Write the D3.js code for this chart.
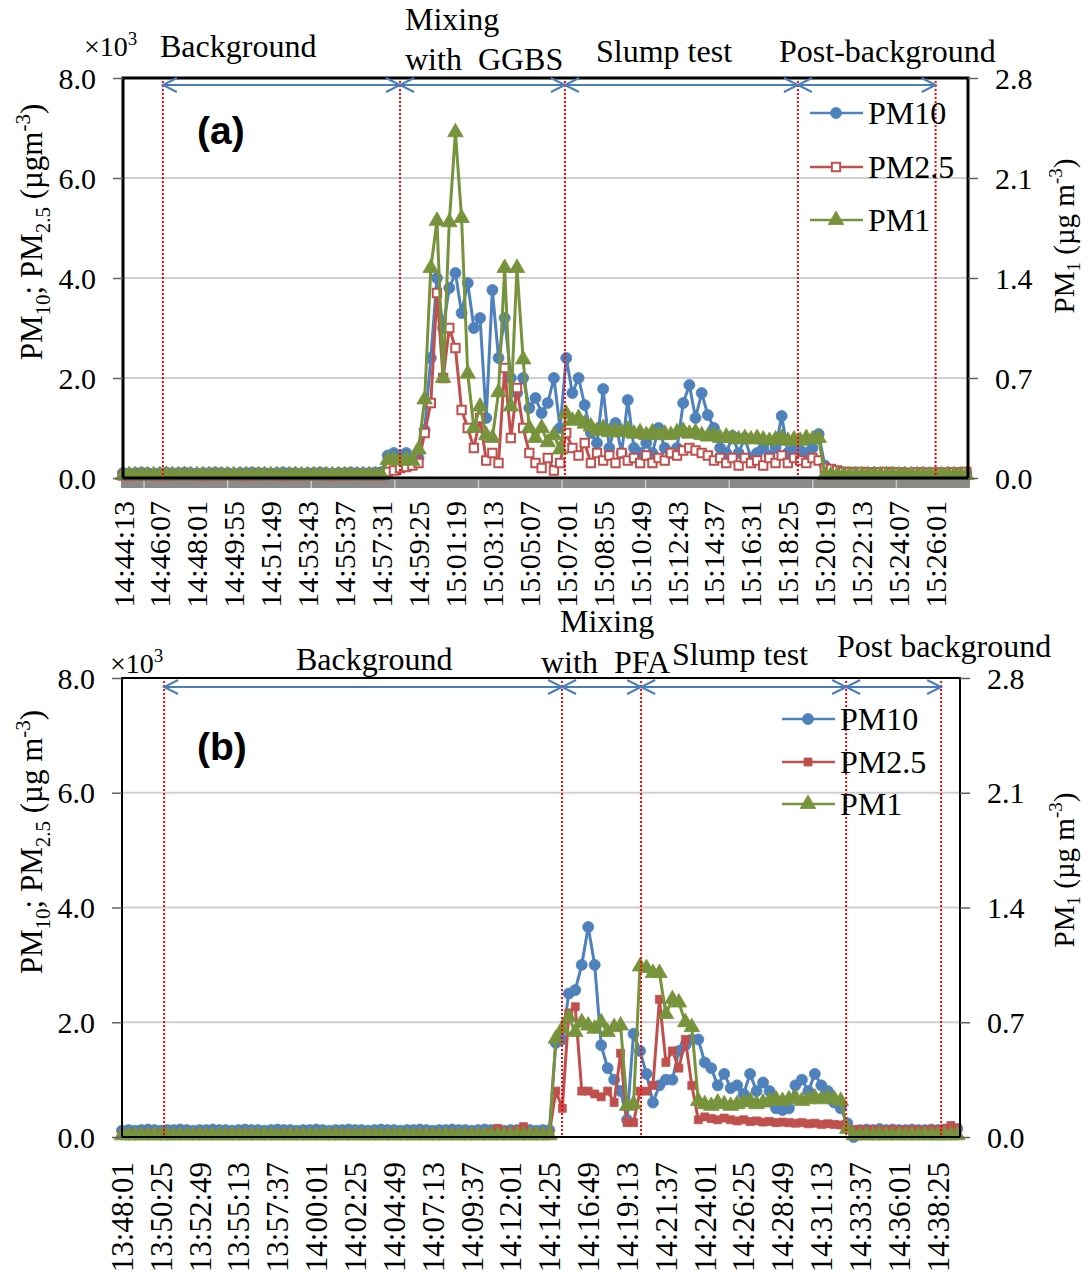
<!DOCTYPE html>
<html>
<head>
<meta charset="utf-8">
<script src="https://cdn.jsdelivr.net/npm/d3@7"></script>
<style>
    body { margin: 0; background: #fff; }
    svg { display: block; }
    text { font-family: "Liberation Serif", "Times New Roman", serif; fill: #000; }
</style>
</head>
<body>
<svg id="chart" width="1090" height="1278"></svg>
<script>
// ---------- panel (a): GGBS, one sample every 19 s from 14:44:13 ----------
const topLabels = ["14:44:13", "14:46:07", "14:48:01", "14:49:55", "14:51:49", "14:53:43", "14:55:37", "14:57:31",
    "14:59:25", "15:01:19", "15:03:13", "15:05:07", "15:07:01", "15:08:55", "15:10:49", "15:12:43", "15:14:37",
    "15:16:31", "15:18:25", "15:20:19", "15:22:13", "15:24:07", "15:26:01"];
const topMinorTicks = ["14:45:18", "14:49:36", "14:53:54", "14:58:12", "15:02:30", "15:06:48", "15:11:06", "15:15:24", "15:19:42", "15:24:00"];
const topPhaseTimes = ["14:46:16", "14:58:28", "15:06:57", "15:18:56", "15:26:01"];

// PM10 and PM2.5 in x10^3 ugm-3 (left axis)
const topPM10 = [
    0.10, 0.09, 0.10, 0.11, 0.10, 0.09, 0.10, 0.11, 0.10, 0.10,
    0.11, 0.10, 0.09, 0.10, 0.10, 0.11, 0.10, 0.10, 0.09, 0.10,
    0.10, 0.11, 0.10, 0.10, 0.09, 0.10, 0.11, 0.10, 0.10, 0.09,
    0.10, 0.10, 0.11, 0.10, 0.09, 0.10, 0.10, 0.11, 0.10, 0.10,
    0.10, 0.11,
    0.12, 0.45, 0.5, 0.45, 0.5, 0.3, 0.4, 0.96, 2.4, 4.0,
    3.0, 3.8, 4.1, 3.3, 3.9, 3.0, 3.2, 1.2, 3.76, 2.4,
    3.2, 2.0, 1.7, 2.0, 1.4, 1.6, 1.3, 1.5, 2.0, 1.0,
    2.4, 1.7, 2.0, 1.46, 0.9, 0.7, 1.78, 0.6, 1.1, 0.5,
    1.56, 0.6, 0.5, 0.7, 0.5, 1.0, 0.6, 0.5, 0.6, 1.5,
    1.86, 1.2, 1.7, 1.26, 1.0, 0.6, 0.5, 0.84, 0.5, 0.8,
    0.4, 0.5, 0.6, 0.45, 0.6, 1.24, 0.5, 0.6, 0.55, 0.5,
    0.6, 0.88,
    0.25, 0.14, 0.11, 0.10, 0.10, 0.11, 0.10, 0.10, 0.11, 0.10,
    0.10, 0.11, 0.10, 0.10, 0.09, 0.10, 0.11, 0.10, 0.10, 0.10,
    0.11, 0.10, 0.10, 0.09
];
const topPM25 = [
    0.05, 0.04, 0.05, 0.05, 0.06, 0.05, 0.04, 0.05, 0.05, 0.05,
    0.06, 0.05, 0.05, 0.04, 0.05, 0.05, 0.05, 0.06, 0.05, 0.05,
    0.04, 0.05, 0.05, 0.05, 0.06, 0.05, 0.04, 0.05, 0.05, 0.05,
    0.05, 0.06, 0.05, 0.05, 0.04, 0.05, 0.05, 0.05, 0.06, 0.05,
    0.05, 0.05,
    0.05, 0.12, 0.15, 0.2, 0.22, 0.25, 0.3, 0.9, 1.5, 3.7,
    2.0, 3.0, 2.6, 1.36, 1.0, 0.6, 1.2, 0.35, 0.5, 0.3,
    2.2, 0.8, 1.8, 1.0, 0.5, 0.3, 0.2, 0.4, 0.15, 0.3,
    0.9, 0.6, 0.45, 0.7, 0.3, 0.5, 0.35, 0.45, 0.3, 0.5,
    0.35, 0.4, 0.3, 0.45, 0.3, 0.4, 0.35, 0.5, 0.45, 0.55,
    0.6, 0.55, 0.5, 0.45, 0.35, 0.4, 0.3, 0.4, 0.25, 0.4,
    0.3, 0.35, 0.25, 0.4, 0.3, 0.45, 0.3, 0.4, 0.35, 0.3,
    0.4, 0.35,
    0.2, 0.18, 0.15, 0.12, 0.12, 0.11, 0.12, 0.11, 0.1, 0.11,
    0.12, 0.1, 0.11, 0.1, 0.1, 0.11, 0.1, 0.1, 0.11, 0.1,
    0.1, 0.11, 0.1, 0.12
];
// PM1 in x10^3 ug m-3 (right axis)
const topPM1 = [
    0.02, 0.02, 0.02, 0.02, 0.02, 0.02, 0.02, 0.02, 0.02, 0.02,
    0.02, 0.02, 0.02, 0.02, 0.02, 0.02, 0.02, 0.02, 0.02, 0.02,
    0.02, 0.02, 0.02, 0.02, 0.02, 0.02, 0.02, 0.02, 0.02, 0.02,
    0.02, 0.02, 0.02, 0.02, 0.02, 0.02, 0.02, 0.02, 0.02, 0.02,
    0.02, 0.02, 0.02,
    0.126, 0.13, 0.12, 0.13, 0.12, 0.2, 0.55, 1.47, 1.8, 0.7,
    1.79, 2.42, 1.82, 0.73, 0.35, 0.5, 0.3, 0.28, 0.6, 1.47,
    0.5, 1.47, 0.83, 0.35, 0.28, 0.35, 0.25, 0.3, 0.2,
    0.45, 0.4, 0.42, 0.38, 0.36, 0.33, 0.35, 0.32, 0.33, 0.32,
    0.34, 0.31, 0.32, 0.3, 0.32, 0.3, 0.31, 0.3, 0.32, 0.33,
    0.31, 0.32, 0.3, 0.29, 0.3, 0.28, 0.29, 0.28, 0.27, 0.28,
    0.27, 0.28, 0.27, 0.26, 0.27, 0.28, 0.26, 0.27, 0.26, 0.28,
    0.27, 0.28,
    0.02, 0.02, 0.02, 0.02, 0.02, 0.02, 0.02, 0.02, 0.02, 0.02,
    0.02, 0.02, 0.02, 0.02, 0.02, 0.02, 0.02, 0.02, 0.02, 0.02,
    0.02, 0.02, 0.02, 0.02
];

// ---------- panel (b): PFA, one sample every 24 s from 13:48:01 ----------
const bottomLabels = ["13:48:01", "13:50:25", "13:52:49", "13:55:13", "13:57:37", "14:00:01", "14:02:25", "14:04:49",
    "14:07:13", "14:09:37", "14:12:01", "14:14:25", "14:16:49", "14:19:13", "14:21:37", "14:24:01", "14:26:25",
    "14:28:49", "14:31:13", "14:33:37", "14:36:01", "14:38:25"];
const bottomPhaseTimes = ["13:50:37", "14:15:12", "14:20:05", "14:32:45", "14:38:37"];

const bottomPM10 = [
    0.11, 0.12, 0.11, 0.12, 0.13, 0.12, 0.11, 0.12, 0.12, 0.13,
    0.12, 0.11, 0.12, 0.12, 0.13, 0.12, 0.12, 0.11, 0.12, 0.13,
    0.12, 0.12, 0.11, 0.12, 0.13, 0.12, 0.12, 0.11, 0.12, 0.12,
    0.13, 0.12, 0.11, 0.12, 0.12, 0.13, 0.12, 0.12, 0.11, 0.12,
    0.13, 0.12, 0.12, 0.11, 0.12, 0.12, 0.13, 0.12, 0.11, 0.12,
    0.12, 0.13, 0.12, 0.12, 0.11, 0.12, 0.13, 0.12, 0.12, 0.11,
    0.12, 0.12, 0.13, 0.12, 0.11, 0.12, 0.12,
    1.64, 1.7, 2.5, 2.56, 3.0, 3.66, 3.0, 1.6, 1.2, 1.0,
    0.8, 0.3, 1.8, 1.5, 1.1, 0.6, 0.9, 1.0, 1.0, 1.5,
    1.6, 1.7, 1.7, 1.3, 1.2, 0.9, 1.1, 0.85, 0.9, 0.75,
    1.1, 0.8, 0.95, 0.8, 0.5, 0.47, 0.5, 0.9, 1.0, 0.8,
    1.1, 0.9, 0.8, 0.6, 0.5, 0.24, 0.0,
    0.12, 0.13, 0.12, 0.14, 0.12, 0.13, 0.12, 0.12, 0.13, 0.12,
    0.12, 0.13, 0.12, 0.13, 0.12, 0.14
];
const bottomPM25 = [
    0.05, 0.05, 0.04, 0.05, 0.05, 0.06, 0.05, 0.05, 0.04, 0.05,
    0.05, 0.05, 0.06, 0.05, 0.05, 0.04, 0.05, 0.05, 0.05, 0.06,
    0.05, 0.05, 0.04, 0.05, 0.05, 0.05, 0.06, 0.05, 0.05, 0.04,
    0.05, 0.05, 0.05, 0.06, 0.05, 0.05, 0.04, 0.05, 0.05, 0.05,
    0.06, 0.05, 0.05, 0.04, 0.05, 0.05, 0.05, 0.06, 0.05, 0.05,
    0.05, 0.06, 0.05, 0.05, 0.05, 0.06, 0.05, 0.08, 0.15, 0.1,
    0.06, 0.12, 0.18, 0.08, 0.06, 0.05, 0.06,
    0.8, 0.5, 2.16, 2.27, 0.8, 0.8, 0.75, 0.7, 0.8, 0.6,
    1.46, 0.25, 0.25, 0.8, 0.8, 0.9, 2.4, 1.3, 1.5, 1.2,
    1.7, 0.9, 0.3, 0.35, 0.32, 0.3, 0.33, 0.3, 0.28, 0.3,
    0.27, 0.28, 0.26, 0.27, 0.25, 0.26, 0.25, 0.24, 0.25, 0.23,
    0.24, 0.22, 0.23, 0.22, 0.21, 0.15, 0.13,
    0.13, 0.12, 0.13, 0.12, 0.12, 0.13, 0.12, 0.12, 0.13, 0.12,
    0.12, 0.13, 0.12, 0.14, 0.2, 0.15
];
const bottomPM1 = [
    0.01, 0.01, 0.01, 0.01, 0.01, 0.01, 0.01, 0.01, 0.01, 0.01,
    0.01, 0.01, 0.01, 0.01, 0.01, 0.01, 0.01, 0.01, 0.01, 0.01,
    0.01, 0.01, 0.01, 0.01, 0.01, 0.01, 0.01, 0.01, 0.01, 0.01,
    0.01, 0.01, 0.01, 0.01, 0.01, 0.01, 0.01, 0.01, 0.01, 0.01,
    0.01, 0.01, 0.01, 0.01, 0.01, 0.01, 0.01, 0.01, 0.01, 0.01,
    0.01, 0.01, 0.01, 0.01, 0.01, 0.01, 0.01, 0.01, 0.01, 0.01,
    0.01, 0.01, 0.01, 0.01, 0.01, 0.01, 0.01,
    0.6, 0.66, 0.73, 0.64, 0.7, 0.68, 0.66, 0.7, 0.64, 0.67,
    0.68, 0.19, 0.2, 1.04, 1.03, 1.0, 1.0, 0.75, 0.84, 0.82,
    0.7, 0.67, 0.22, 0.2, 0.19, 0.21, 0.2, 0.19, 0.2, 0.21,
    0.22, 0.2, 0.21, 0.22, 0.23, 0.22, 0.23, 0.24, 0.22, 0.23,
    0.24, 0.23, 0.24, 0.23, 0.22, 0.05, 0.01,
    0.01, 0.01, 0.01, 0.01, 0.01, 0.01, 0.01, 0.01, 0.01, 0.01,
    0.01, 0.01, 0.01, 0.01, 0.01, 0.01
];

const leftTicks = [0, 2, 4, 6, 8];
const rightTicks = [0, 0.7, 1.4, 2.1, 2.8];
const seriesNames = ["PM10", "PM2.5", "PM1"];
const colors = ["#4F81BD", "#C0504D", "#77933C"];

const svg = d3.select("#chart");
const toSec = s => { const [h, m, sec] = s.split(":").map(Number); return h * 3600 + m * 60 + sec; };

const marker = (sel, shape, color, openFill) => {
    const type = shape === "circle" ? d3.symbolCircle : shape === "square" ? d3.symbolSquare : d3.symbolTriangle;
    const size = shape === "circle" ? 95 : shape === "square" ? (openFill ? 70 : 64) : 105;
    sel.attr("d", d3.symbol().type(type).size(size)())
        .attr("fill", openFill ? "#fff" : color)
        .attr("stroke", color)
        .attr("stroke-width", openFill ? 2 : 0.8);
};

const drawPanel = (p) => {
    const g = svg.append("g");
    const t0 = toSec(p.start);
    const x = d3.scaleLinear().domain([0, p.span]).range([p.left, p.right]);
    const yL = d3.scaleLinear().domain([0, 8]).range([p.bottom, p.top]);
    const yR = d3.scaleLinear().domain([0, 2.8]).range([p.bottom, p.top]);
    const xt = s => x(toSec(s) - t0);

    // gridlines
    g.append("g").selectAll("line").data([2, 4, 6]).join("line")
        .attr("x1", p.left).attr("x2", p.right)
        .attr("y1", d => yL(d)).attr("y2", d => yL(d))
        .attr("stroke", "#d0d0d0").attr("stroke-width", 2);

    // grey category axis band (panel a only)
    if (p.band) {
        g.append("rect").attr("x", p.left - 2).attr("y", p.bottom + 2).attr("width", p.right - p.left + 4).attr("height", 8).attr("fill", "#8a8a8a");
        g.append("g").selectAll("line").data(p.minorTicks).join("line")
            .attr("x1", d => xt(d)).attr("x2", d => xt(d))
            .attr("y1", p.bottom + 2).attr("y2", p.bottom + 10)
            .attr("stroke", "#c8c8c8").attr("stroke-width", 1.5);
    }

    // series
    const series = [
        { vals: p.pm10, y: yL, shape: "circle" },
        { vals: p.pm25, y: yL, shape: "square", open: p.openSquares },
        { vals: p.pm1, y: yR, shape: "triangle" }
    ];
    series.forEach((s, k) => {
        const pts = s.vals.map((v, i) => [x(i * p.step), s.y(v)]);
        g.append("path")
            .attr("d", d3.line()(pts))
            .attr("fill", "none")
            .attr("stroke", colors[k])
            .attr("stroke-width", 3)
            .attr("stroke-linejoin", "round");
        g.append("g").selectAll("path").data(pts).join("path")
            .attr("transform", d => `translate(${d[0]},${d[1]})`)
            .call(marker, s.shape, colors[k], s.open);
    });

    // frame
    g.append("rect")
        .attr("x", p.left).attr("y", p.top)
        .attr("width", p.right - p.left).attr("height", p.bottom - p.top)
        .attr("fill", "none").attr("stroke", "#000").attr("stroke-width", p.frameWidth);

    // left axis
    const leftAxis = g.append("g").attr("transform", `translate(${p.left},0)`)
        .call(d3.axisLeft(yL).tickValues(leftTicks).tickFormat(d3.format(".1f")).tickSize(10).tickPadding(17));
    const rightAxis = g.append("g").attr("transform", `translate(${p.right},0)`)
        .call(d3.axisRight(yR).tickValues(rightTicks).tickFormat(d3.format(".1f")).tickSize(10).tickPadding(p.rightPad));
    [leftAxis, rightAxis].forEach(a => {
        a.attr("font-family", null).attr("font-size", null);
        a.select(".domain").remove();
        a.selectAll(".tick line").attr("stroke", "#606060").attr("stroke-width", 1.5);
        a.selectAll(".tick text").attr("font-size", 30).attr("dy", "0.34em");
    });

    // time labels
    g.append("g").selectAll("text").data(p.labels).join("text")
        .attr("transform", d => `translate(${xt(d)},${p.labelTop}) rotate(-90)`)
        .attr("text-anchor", "end")
        .attr("dy", "0.35em")
        .attr("font-size", p.labelSize)
        .text(d => d);

    // phase boundaries
    g.append("g").selectAll("line").data(p.phases).join("line")
        .attr("x1", d => xt(d)).attr("x2", d => xt(d))
        .attr("y1", p.top + 3).attr("y2", p.bottom - 2)
        .attr("stroke", "#ff0000").attr("stroke-width", 2).attr("stroke-dasharray", "2,2");

    // double arrows between boundaries
    const arrows = g.append("g").attr("stroke", "#4a7ebb").attr("stroke-width", 2).attr("fill", "none");
    d3.pairs(p.phases).forEach(([a, b]) => {
        const x1 = xt(a), x2 = xt(b), y = p.arrowY;
        arrows.append("line").attr("x1", x1).attr("x2", x2).attr("y1", y).attr("y2", y);
        arrows.append("path").attr("d", `M${x1 + 14},${y - 7}L${x1},${y}L${x1 + 14},${y + 7}`);
        arrows.append("path").attr("d", `M${x2 - 14},${y - 7}L${x2},${y}L${x2 - 14},${y + 7}`);
    });

    // phase names
    g.append("g").selectAll("text").data(p.notes).join("text")
        .attr("x", d => d.x).attr("y", d => d.y)
        .attr("font-size", 32)
        .style("white-space", "pre")
        .text(d => d.t);

    // x10^3
    const mult = g.append("text").attr("x", p.multX).attr("y", p.multY).attr("font-size", 28).text("×10");
    mult.append("tspan").attr("font-size", 19).attr("dy", -11).text("3");

    // panel tag
    g.append("text").attr("x", 197).attr("y", p.tagY)
        .style("font-family", "'Liberation Sans', Arial, sans-serif")
        .attr("font-weight", "bold").attr("font-size", 39).text(p.tag);

    // legend
    const leg = g.append("g").selectAll("g").data(seriesNames).join("g")
        .attr("transform", (d, i) => `translate(0,${p.legendY[i]})`);
    leg.append("line").attr("x1", p.legendX).attr("x2", p.legendX + 53)
        .attr("stroke", (d, i) => colors[i]).attr("stroke-width", 2.5);
    leg.append("path").attr("transform", `translate(${p.legendX + 26},0)`)
        .each(function(d, i) { d3.select(this).call(marker, series[i].shape, colors[i], series[i].open); });
    leg.append("text").attr("x", p.legendX + 58).attr("dy", "0.35em").attr("font-size", 32).text(d => d);

    // axis titles
    const lt = g.append("text").attr("transform", `translate(42,${p.leftTitleY}) rotate(-90)`)
        .attr("text-anchor", "middle").attr("font-size", 31);
    lt.append("tspan").text("PM");
    lt.append("tspan").attr("font-size", 21).attr("dy", 8).text("10");
    lt.append("tspan").attr("dy", -8).text("; PM");
    lt.append("tspan").attr("font-size", 21).attr("dy", 8).text("2.5");
    lt.append("tspan").attr("dy", -8).text(p.leftUnit);
    lt.append("tspan").attr("font-size", 21).attr("dy", -12).text("-3");
    lt.append("tspan").attr("dy", 12).text(")");

    const rt = g.append("text").attr("transform", `translate(1074,${p.rightTitleY}) rotate(-90)`)
        .attr("text-anchor", "middle").attr("font-size", 29);
    rt.append("tspan").text("PM");
    rt.append("tspan").attr("font-size", 19).attr("dy", 6).text("1");
    rt.append("tspan").attr("dy", -6).text(" (µg m");
    rt.append("tspan").attr("font-size", 19).attr("dy", -12).text("-3");
    rt.append("tspan").attr("dy", 12).text(")");
};

drawPanel({
    start: "14:44:13", step: 19, span: 2608,
    left: 123, right: 968, top: 78, bottom: 478,
    pm10: topPM10, pm25: topPM25, pm1: topPM1, openSquares: true,
    labels: topLabels, labelTop: 501, labelSize: 30,
    band: true, minorTicks: topMinorTicks, frameWidth: 3, rightPad: 17,
    phases: topPhaseTimes, arrowY: 85,
    notes: [
        { t: "Background", x: 160, y: 57 },
        { t: "Mixing", x: 405, y: 30 },
        { t: "with  GGBS", x: 405, y: 70 },
        { t: "Slump test", x: 596, y: 62 },
        { t: "Post-background", x: 779, y: 62 }
    ],
    multX: 84, multY: 56, tag: "(a)", tagY: 144,
    legendX: 810, legendY: [113, 167, 220],
    leftTitleY: 232, leftUnit: " (µgm", rightTitleY: 236
});

drawPanel({
    start: "13:48:01", step: 24, span: 3106,
    left: 122, right: 960, top: 678, bottom: 1137,
    pm10: bottomPM10, pm25: bottomPM25, pm1: bottomPM1, openSquares: false,
    labels: bottomLabels, labelTop: 1162, labelSize: 31,
    band: false, minorTicks: [], frameWidth: 2, rightPad: 17,
    phases: bottomPhaseTimes, arrowY: 687,
    notes: [
        { t: "Background", x: 296, y: 670 },
        { t: "Mixing", x: 560, y: 632 },
        { t: "with  PFA", x: 541, y: 673 },
        { t: "Slump test", x: 672, y: 665 },
        { t: "Post background", x: 837, y: 657 }
    ],
    multX: 110, multY: 673, tag: "(b)", tagY: 760,
    legendX: 782, legendY: [719, 762, 804],
    leftTitleY: 842, leftUnit: " (µg m", rightTitleY: 870
});
</script>
</body>
</html>
